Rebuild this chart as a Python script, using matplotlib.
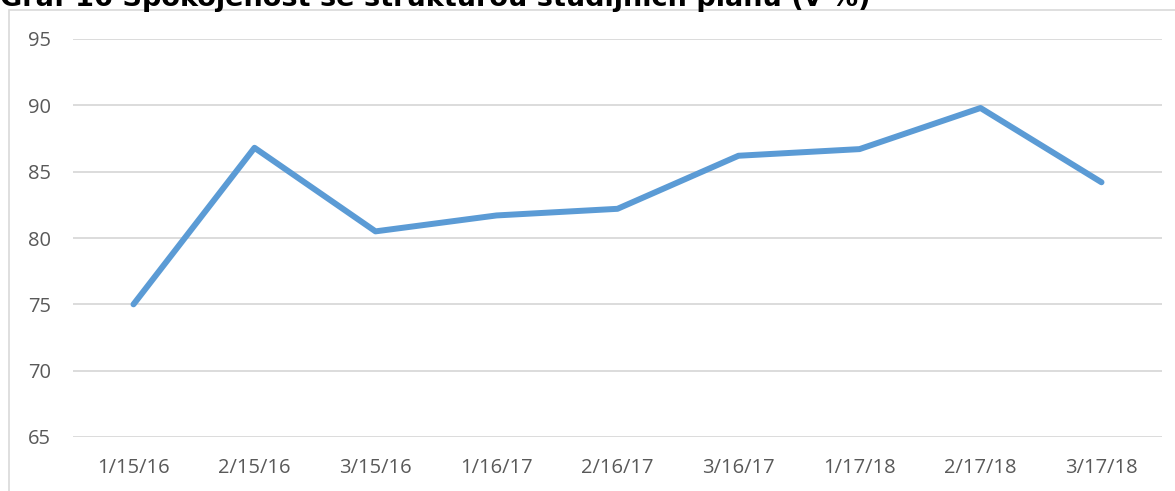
import matplotlib.pyplot as plt
from matplotlib.patches import Rectangle

# Data
labels = ["1/15/16", "2/15/16", "3/15/16", "1/16/17", "2/16/17",
          "3/16/17", "1/17/18", "2/17/18", "3/17/18"]
values = [75.0, 86.8, 80.5, 81.7, 82.2, 86.2, 86.7, 89.8, 84.2]
yticks = [65, 70, 75, 80, 85, 90, 95]
title = "Graf 16 Spokojenost se strukturou studijních plánů (v %)"

W, H = 1175, 491
fig = plt.figure(figsize=(W / 100, H / 100), dpi=100)

# Chart area frame (light grey, clipped at right and bottom)
fig.patches.append(Rectangle((9 / W, -0.1), 1.2, 1 - 10 / H + 0.1,
                             transform=fig.transFigure, fill=False,
                             edgecolor="#D9D9D9", linewidth=1.2))

ax = fig.add_axes([73 / W, 1 - 437 / H, (1162 - 73) / W, (437 - 39) / H])
x = list(range(len(labels)))
ax.plot(x, values, color="#5B9BD5", linewidth=4.3, solid_capstyle="round",
        solid_joinstyle="round", zorder=3)

ax.set_xlim(-0.5, len(labels) - 0.5)
ax.set_ylim(65, 95)
ax.set_yticks(yticks)
ax.set_xticks(x)
ax.set_xticklabels(labels)
ax.grid(axis="y", color="#D9D9D9", linewidth=1.3)
ax.set_axisbelow(True)
for s in ax.spines.values():
    s.set_visible(False)
ax.tick_params(length=0, labelsize=14.5, labelcolor="#595959")
ax.tick_params(axis="y", pad=16)
ax.tick_params(axis="x", pad=15)
for t in ax.get_xticklabels() + ax.get_yticklabels():
    t.set_fontfamily("Open Sans")

fig.text(0, 1 - 6 / H, title, fontsize=19.5, fontweight="bold",
         family="DejaVu Sans", va="baseline", ha="left", color="black")

fig.savefig("out.png", dpi=100)
